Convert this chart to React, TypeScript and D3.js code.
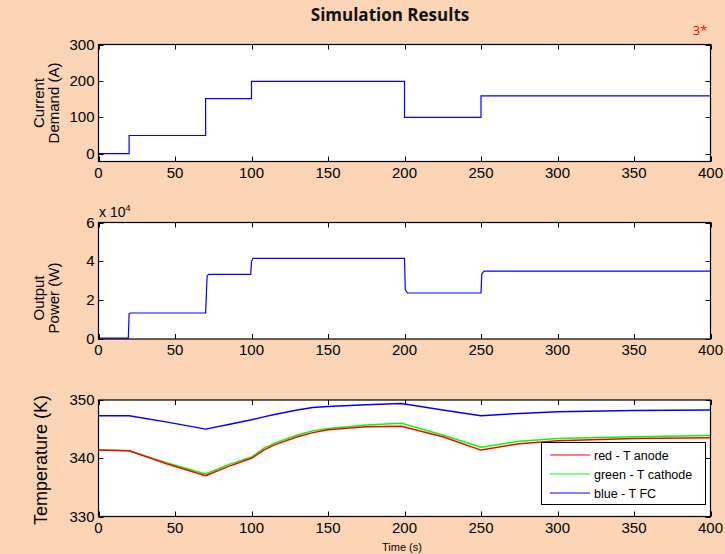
import React, { useRef, useEffect } from 'react'
import * as d3 from 'd3'

// current demand (A), step changes
const currentTime = [0, 20, 70, 100, 200, 250, 400]
const currentValue = [0, 50, 152, 200, 100, 160, 160]

// fuel cell output power (W)
const powerTime = [0, 19.5, 20, 21, 70, 71, 72, 99.5, 100, 101, 200, 200.5, 202, 250, 250.5, 252, 400]
const powerValue = [500, 500, 13000, 13400, 13400, 32500, 33300, 33300, 40000, 41500, 41500, 25500, 23700, 23700, 33500, 35000, 35000]

// temperatures (K)
const tempTime = [0, 20, 45, 70, 85, 100, 108, 115, 130, 140, 150, 175, 198, 225, 250, 275, 300, 350, 400]
const tAnode = [341.4, 341.3, 339.0, 337.0, 338.6, 340.0, 341.4, 342.3, 343.7, 344.4, 344.9, 345.4, 345.5, 343.7, 341.4, 342.5, 343.0, 343.4, 343.5]
const tCathode = [341.4, 341.3, 339.2, 337.3, 338.9, 340.2, 341.7, 342.6, 344.0, 344.7, 345.1, 345.7, 346.0, 344.0, 341.9, 342.9, 343.4, 343.7, 343.9]
const tFC = [347.3, 347.3, 346.2, 345.0, 345.8, 346.6, 347.1, 347.5, 348.3, 348.7, 348.9, 349.2, 349.4, 348.3, 347.3, 347.7, 348.0, 348.2, 348.3]

const xTicks = [0, 50, 100, 150, 200, 250, 300, 350, 400]
const legendLabels = ['red - T anode', 'green - T cathode', 'blue - T FC']

const width = 725
const height = 554
const tickFont = '"Liberation Sans", Arial, sans-serif'

export default function App() {
  const visEl = useRef<HTMLDivElement>(null)

  useEffect(() => {
    const root = d3.select(visEl.current)
    root.selectAll('*').remove()
    const svg = root.append('svg')
      .attr('width', width)
      .attr('height', height)
      .style('position', 'absolute')
      .style('left', 0)
      .style('top', 0)

    svg.append('rect').attr('width', width).attr('height', height).attr('fill', '#FBD5B5')

    svg.append('text')
      .attr('x', 390).attr('y', 21)
      .attr('text-anchor', 'middle')
      .attr('font-family', '"Open Sans", sans-serif')
      .attr('font-weight', 'bold')
      .attr('font-size', 17)
      .attr('fill', '#111')
      .text('Simulation Results')

    svg.append('text')
      .attr('x', 700).attr('y', 35)
      .attr('text-anchor', 'middle')
      .attr('font-family', '"Open Sans", sans-serif')
      .attr('font-size', 13)
      .attr('fill', 'red')
      .text('3*')

    const left = 98.5, right = 710.5
    const x = d3.scaleLinear().domain([0, 400]).range([left, right])

    const drawPanel = (top: number, bottom: number, yDomain: number[], yTicks: number[], yFmt: (v: number) => string) => {
      const y = d3.scaleLinear().domain(yDomain).range([bottom, top])
      const g = svg.append('g')
      g.append('rect')
        .attr('x', left).attr('y', top)
        .attr('width', right - left).attr('height', bottom - top)
        .attr('fill', 'white')

      const tl = 5
      // inward ticks on all four sides
      const tickG = g.append('g').attr('stroke', 'black').attr('stroke-width', 1)
      xTicks.forEach(t => {
        const px = Math.round(x(t)) + 0.5
        tickG.append('line').attr('x1', px).attr('x2', px).attr('y1', bottom).attr('y2', bottom - tl)
        tickG.append('line').attr('x1', px).attr('x2', px).attr('y1', top).attr('y2', top + tl)
      })
      yTicks.forEach(v => {
        const py = Math.round(y(v)) + 0.5
        tickG.append('line').attr('x1', left).attr('x2', left + tl).attr('y1', py).attr('y2', py)
        tickG.append('line').attr('x1', right).attr('x2', right - tl).attr('y1', py).attr('y2', py)
      })

      g.selectAll('.xl').data(xTicks).enter().append('text')
        .attr('x', d => x(d)).attr('y', bottom + 16)
        .attr('text-anchor', 'middle')
        .attr('font-family', tickFont).attr('font-size', 15)
        .text(d => String(d))

      g.selectAll('.yl').data(yTicks).enter().append('text')
        .attr('x', left - 4).attr('y', d => y(d) + 5)
        .attr('text-anchor', 'end')
        .attr('font-family', tickFont).attr('font-size', 15)
        .text(d => yFmt(d))

      return { g, y }
    }

    const frame = (g: any, top: number, bottom: number) => {
      g.append('rect')
        .attr('x', left).attr('y', top)
        .attr('width', right - left).attr('height', bottom - top)
        .attr('fill', 'none').attr('stroke', 'black').attr('stroke-width', 1.2)
    }

    // panel 1: current demand
    const p1 = drawPanel(44.5, 161.5, [-22, 302], [0, 100, 200, 300], d => String(d))
    const curLine = d3.line<number>()
      .x((d, i) => x(currentTime[i]))
      .y(d => p1.y(d))
      .curve(d3.curveStepAfter)
    p1.g.append('path').datum(currentValue)
      .attr('d', curLine).attr('fill', 'none').attr('stroke', '#0000FF').attr('stroke-width', 1.2)
    frame(p1.g, 44.5, 161.5)

    // panel 2: output power
    const p2 = drawPanel(222.5, 339, [0, 60000], [0, 20000, 40000, 60000], d => String(d / 10000))
    const powLine = d3.line<number>()
      .x((d, i) => x(powerTime[i]))
      .y(d => p2.y(d))
    p2.g.append('path').datum(powerValue)
      .attr('d', powLine).attr('fill', 'none').attr('stroke', '#0000FF').attr('stroke-width', 1.2)
    frame(p2.g, 222.5, 339)
    const expo = svg.append('text').attr('x', 99).attr('y', 217)
      .attr('font-family', tickFont).attr('font-size', 14)
    expo.append('tspan').text('x 10')
    expo.append('tspan').attr('dy', -6).attr('font-size', 9).text('4')

    // panel 3: temperatures
    const tLine = (vals: number[]) => d3.line<number>()
      .x((d, i) => x(tempTime[i]))
      .y(d => p3.y(d))(vals)
    const p3 = drawPanel(400, 516.5, [330, 350], [330, 340, 350], d => String(d))
    const series = [
      { vals: tFC, color: '#0000FF' },
      { vals: tCathode, color: '#00FF00' },
      { vals: tAnode, color: '#FF0000' },
    ]
    series.forEach(s => {
      p3.g.append('path').attr('d', tLine(s.vals))
        .attr('fill', 'none').attr('stroke', s.color).attr('stroke-width', 1.5)
        .attr('stroke-linejoin', 'round')
    })
    frame(p3.g, 400, 516.5)

    // legend
    const lg = svg.append('g')
    lg.append('rect').attr('x', 541.5).attr('y', 442.5).attr('width', 164).attr('height', 62)
      .attr('fill', 'white').attr('stroke', 'black').attr('stroke-width', 1)
    const legendColors = ['#FF0000', '#00FF00', '#0000FF']
    legendLabels.forEach((lab, i) => {
      const ly = 455 + i * 19
      lg.append('line').attr('x1', 550).attr('x2', 590).attr('y1', ly).attr('y2', ly)
        .attr('stroke', legendColors[i]).attr('stroke-width', 1.2)
      lg.append('text').attr('x', 594).attr('y', ly + 4.5)
        .attr('font-family', tickFont).attr('font-size', 12.5)
        .text(lab)
    })

    // axis titles
    const ylab = (cx: number, cy: number, lines: string[], size: number) => {
      const t = svg.append('text')
        .attr('transform', `translate(${cx},${cy}) rotate(-90)`)
        .attr('text-anchor', 'middle')
        .attr('font-family', tickFont).attr('font-size', size)
      lines.forEach((l, i) => {
        t.append('tspan').attr('x', 0).attr('dy', i === 0 ? 0 : size * 1.0).text(l)
      })
    }
    ylab(44, 103, ['Current', 'Demand (A)'], 15)
    ylab(44, 298, ['Output', 'Power (W)'], 15)
    ylab(47, 460, ['Temperature (K)'], 18)

    svg.append('text').attr('x', 402).attr('y', 551)
      .attr('text-anchor', 'middle')
      .attr('font-family', tickFont).attr('font-size', 11)
      .text('Time (s)')
  }, [])

  return (
    <div>
      <div ref={visEl}></div>
    </div>
  )
}
